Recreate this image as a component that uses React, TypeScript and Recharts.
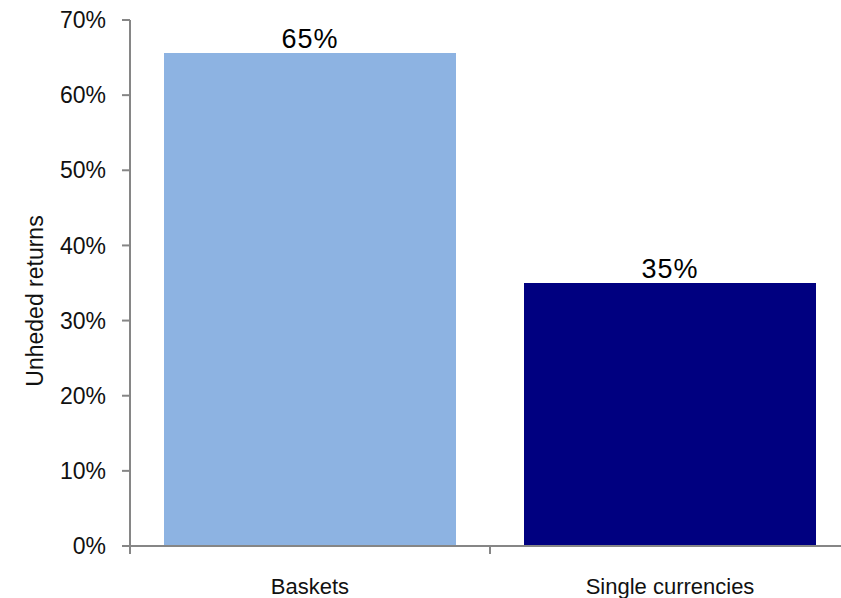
import React from 'react';
import { BarChart, Bar, XAxis, YAxis, Cell, LabelList, Label } from 'recharts';

const categories = ['Baskets', 'Single currencies'];
const shares = [65.6, 35.0];
const barColors = ['#8DB3E2', '#000080'];
const yTicks = [0, 10, 20, 30, 40, 50, 60, 70];

const data = categories.map((name, i) => ({ name, value: shares[i] }));

const FONT = '"Liberation Sans", Arial, sans-serif';
const AXIS = '#868686';
const LABEL_GAP = 32;

function YTitle(props: any) {
  const { viewBox } = props;
  const cy = viewBox.y + viewBox.height / 2 + 18;
  return (
    <text
      transform={`translate(43, ${cy}) rotate(-90)`}
      textAnchor="middle"
      fontFamily={FONT}
      fontSize={23}
      fill="#111"
    >
      Unheded returns
    </text>
  );
}

// category label plus tick marks at the band edges
function CatTick(props: any) {
  const { x, y, payload, index, visibleTicksCount } = props;
  const half = payload.offset || 0;
  const axisY = y - LABEL_GAP;
  const last = index === visibleTicksCount - 1;
  return (
    <g>
      <line x1={x - half} x2={x - half} y1={axisY} y2={axisY + 8} stroke={AXIS} strokeWidth={2} />
      {last && (
        <line x1={x + half} x2={x + half} y1={axisY} y2={axisY + 8} stroke={AXIS} strokeWidth={2} />
      )}
      <text x={x} y={y} dy="0.71em" textAnchor="middle" fontFamily={FONT} fontSize={22} fill="#111">
        {payload.value}
      </text>
    </g>
  );
}

export default function App() {
  return (
    <div
      style={{
        position: 'fixed',
        left: 0,
        top: 0,
        width: 841,
        height: 598,
        overflow: 'hidden',
        background: '#fff',
      }}
    >
      <BarChart
        width={860}
        height={598}
        data={data}
        margin={{ top: 20, right: 10, bottom: 0, left: 0 }}
        barCategoryGap={34}
      >
        <XAxis
          dataKey="name"
          height={52}
          axisLine={{ stroke: AXIS, strokeWidth: 2 }}
          tickLine={false}
          tickSize={0}
          tickMargin={LABEL_GAP}
          tick={<CatTick />}
          interval={0}
        />
        <YAxis
          domain={[0, 70]}
          ticks={yTicks}
          width={130}
          tickFormatter={(v) => `${v}%`}
          tickSize={8}
          tickMargin={16}
          axisLine={{ stroke: AXIS, strokeWidth: 2 }}
          tickLine={{ stroke: AXIS, strokeWidth: 2 }}
          tick={{ fontFamily: FONT, fontSize: 23, fill: '#111' }}
          interval={0}
        >
          <Label content={<YTitle />} />
        </YAxis>
        <Bar dataKey="value" isAnimationActive={false}>
          {data.map((d, i) => (
            <Cell key={d.name} fill={barColors[i]} />
          ))}
          <LabelList
            dataKey="value"
            position="top"
            offset={5}
            formatter={(v: any) => `${Math.floor(Number(v))}%`}
            style={{ fontFamily: FONT, fontSize: 27, fill: '#000', letterSpacing: 1 }}
          />
        </Bar>
      </BarChart>
    </div>
  );
}
